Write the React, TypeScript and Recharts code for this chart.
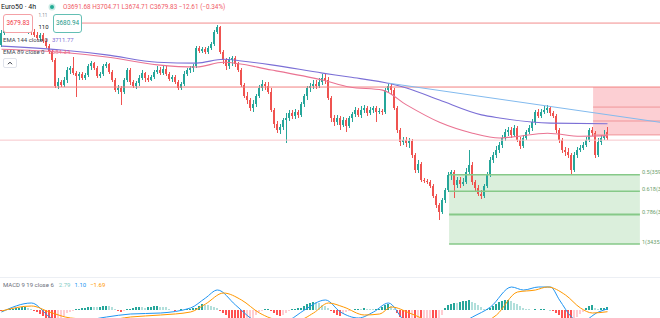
import React from 'react';
import { ComposedChart, Bar, Line, XAxis, YAxis, ReferenceLine, ReferenceArea } from 'recharts';

// ---------- data ----------
const SYMBOL = 'Euro50 · 4h';
const LAST_OHLC_TEXT = 'O3691.68 H3704.71 L3674.71 C3679.83 −12.61 (−0.34%)';
const SELL_PRICE = '3679.83';
const BUY_PRICE = '3680.94';
const SPREAD = '1.11';
const QTY = '110';

// [open, high, low, close] per 4h candle
const OHLC: [number, number, number, number][] = [
  [3893,3927,3888,3920],[3920,3932,3916,3927],[3927,3939,3922,3934],[3934,3941,3927,3936],[3936,3941,3925,3929],
  [3929,3939,3922,3934],[3934,3941,3925,3927],[3927,3936,3920,3932],[3932,3939,3922,3925],[3925,3934,3918,3929],
  [3929,3934,3916,3922],[3922,3929,3911,3916],[3916,3922,3904,3909],[3909,3920,3902,3916],[3916,3920,3897,3902],
  [3902,3906,3886,3890],[3890,3895,3872,3879],[3879,3883,3853,3858],[3858,3863,3794,3798],[3798,3817,3791,3807],
  [3807,3812,3796,3801],[3801,3819,3796,3812],[3812,3842,3805,3835],[3835,3844,3826,3840],[3840,3865,3824,3828],
  [3828,3833,3773,3821],[3821,3830,3812,3826],[3826,3830,3812,3817],[3817,3828,3812,3824],[3824,3849,3819,3844],
  [3844,3856,3835,3851],[3851,3853,3835,3840],[3840,3844,3817,3821],[3821,3830,3817,3826],[3826,3849,3821,3844],
  [3844,3853,3840,3849],[3849,3851,3826,3830],[3830,3835,3807,3812],[3812,3817,3784,3789],[3789,3801,3780,3794],
  [3794,3798,3755,3784],[3784,3817,3780,3812],[3812,3840,3807,3835],[3835,3840,3801,3807],[3807,3812,3794,3798],
  [3798,3810,3791,3805],[3805,3824,3798,3817],[3817,3835,3812,3828],[3828,3830,3807,3817],[3817,3824,3807,3812],
  [3812,3824,3810,3819],[3819,3835,3814,3830],[3830,3844,3826,3835],[3835,3842,3824,3828],[3828,3844,3824,3837],
  [3837,3844,3821,3826],[3826,3830,3810,3814],[3814,3824,3807,3819],[3819,3824,3803,3807],[3807,3812,3789,3794],
  [3794,3807,3789,3803],[3803,3833,3798,3826],[3826,3840,3821,3835],[3835,3844,3828,3840],[3840,3849,3830,3844],
  [3844,3890,3840,3886],[3886,3890,3874,3879],[3879,3888,3874,3883],[3883,3888,3872,3876],[3876,3890,3872,3886],
  [3886,3899,3881,3895],[3895,3927,3890,3922],[3922,3939,3918,3934],[3934,3936,3872,3876],[3876,3881,3849,3858],
  [3858,3863,3835,3844],[3844,3865,3837,3858],[3858,3867,3844,3863],[3863,3867,3842,3849],[3849,3853,3830,3835],
  [3835,3840,3796,3801],[3801,3805,3771,3775],[3775,3784,3757,3766],[3766,3771,3741,3748],[3748,3766,3738,3757],
  [3757,3780,3750,3775],[3775,3801,3771,3794],[3794,3812,3787,3803],[3803,3807,3789,3798],[3798,3807,3780,3784],
  [3784,3794,3738,3743],[3743,3748,3702,3711],[3711,3718,3690,3697],[3697,3711,3688,3704],[3704,3725,3697,3720],
  [3720,3736,3667,3725],[3725,3743,3718,3736],[3736,3743,3722,3729],[3729,3745,3722,3738],[3738,3743,3725,3732],
  [3732,3761,3727,3757],[3757,3780,3750,3775],[3775,3798,3766,3794],[3794,3805,3784,3798],[3798,3812,3791,3803],
  [3803,3812,3791,3798],[3798,3817,3794,3807],[3807,3826,3801,3817],[3817,3826,3803,3812],[3812,3819,3766,3771],
  [3771,3775,3715,3725],[3725,3732,3706,3715],[3715,3732,3709,3725],[3725,3729,3697,3709],[3709,3727,3704,3720],
  [3720,3725,3692,3706],[3706,3729,3702,3725],[3725,3738,3715,3734],[3734,3750,3727,3743],[3743,3748,3727,3732],
  [3732,3752,3725,3743],[3743,3755,3736,3748],[3748,3752,3729,3736],[3736,3750,3732,3743],[3743,3752,3736,3748],
  [3748,3752,3715,3738],[3738,3748,3734,3741],[3741,3745,3732,3738],[3738,3794,3734,3789],[3789,3803,3782,3798],
  [3798,3805,3778,3789],[3789,3794,3743,3748],[3748,3752,3690,3697],[3697,3702,3660,3669],[3669,3681,3663,3674],
  [3674,3681,3658,3667],[3667,3679,3656,3672],[3672,3676,3633,3640],[3640,3644,3598,3605],[3605,3628,3598,3619],
  [3619,3623,3577,3582],[3582,3587,3575,3580],[3580,3584,3573,3577],[3577,3582,3564,3568],[3568,3573,3541,3545],
  [3545,3550,3518,3525],[3525,3529,3490,3508],[3508,3541,3504,3536],[3536,3564,3529,3559],[3559,3600,3554,3594],
  [3594,3605,3582,3600],[3600,3605,3541,3571],[3571,3589,3564,3582],[3582,3589,3564,3573],[3573,3587,3568,3577],
  [3577,3610,3573,3600],[3600,3651,3594,3617],[3617,3623,3571,3577],[3577,3582,3554,3564],[3564,3571,3545,3550],
  [3550,3559,3538,3545],[3545,3573,3541,3568],[3568,3600,3564,3594],[3594,3635,3589,3628],[3628,3646,3621,3640],
  [3640,3660,3633,3651],[3651,3669,3644,3663],[3663,3686,3656,3679],[3679,3699,3672,3692],[3692,3704,3683,3697],
  [3697,3704,3679,3686],[3686,3709,3681,3702],[3702,3706,3669,3674],[3674,3681,3653,3660],[3660,3686,3656,3679],
  [3679,3697,3674,3692],[3692,3709,3688,3702],[3702,3722,3695,3715],[3715,3743,3709,3738],[3738,3745,3725,3729],
  [3729,3745,3725,3738],[3738,3752,3734,3743],[3743,3755,3736,3748],[3748,3752,3729,3736],[3736,3741,3725,3729],
  [3729,3734,3690,3697],[3697,3702,3667,3674],[3674,3679,3644,3651],[3651,3658,3637,3646],[3646,3656,3633,3640],
  [3640,3644,3594,3605],[3605,3646,3600,3640],[3640,3658,3633,3651],[3651,3663,3646,3656],[3656,3669,3651,3663],
  [3663,3681,3658,3674],[3674,3702,3669,3697],[3697,3704,3683,3690],[3690,3695,3633,3640],[3640,3679,3635,3669],
  [3669,3686,3663,3679],[3679,3697,3674,3683],[3691.68,3704.71,3674.71,3679.83],
];

// EMA readings [candle index, value]
const EMA144: [number, number][] = [
  [0,3890],[20,3881],[35,3870],[52,3853],[65,3851],[74,3860],[80,3856],[90,3847],[107,3828],[116,3819],
  [130,3803],[135,3794],[146,3766],[160,3732],[166,3725],[183,3713],[202,3711.77],
];
const EMA89: [number, number][] = [
  [0,3883],[20,3876],[35,3865],[52,3847],[65,3842],[74,3853],[90,3835],[107,3812],[116,3796],[127,3789],
  [135,3755],[146,3715],[157,3690],[166,3679],[170,3681],[182,3690],[193,3683],[202,3684.34],
];

// MACD 9 19 6
const MACD_HIST: number[] = [
  -1,-0.5,0.5,1,1.5,2,2.5,3,3.3,2.5, 1,-0.5,-2,-4,-6,-8,-10,-13,-16,-14,
  -10,-6,-3,-1.5,-0.5,0.8,1.2,1.8,2.4,3, 3.4,3,2.6,3,3.6,4,3.6,3,1.5,-1,
  -2.2,-0.5,1,1.5,2.2,3,3.3,2.8,2.5,3, 3.4,3.8,4,3.5,3.2,3,1.5,0.5,-0.3,0.5,
  0.8,0.4,1,1.5,2,2.5,4,5.8,5.5,4.8, 4,3,2,-1,-3,-5,-8,-11,-14,-16,
  -18,-19,-17,-13,-9,-5,-1.5,-0.5,0.8,1.2, -1,-3,-5,-6,-5,-3,-1,0.8,1.5,2,
  2.5,4,6,7.5,8.3,8,7,5.5,4,2, -1,-3,-5,-6,-4,-2,-0.5,0.5,1,1.5,
  1.2,1.8,1.5,1,0.6,0.8,1.2,3,5,5.7, 4.5,1,-3,-7,-10,-12,-14,-13,-15,-12,
  -13,-11,-9,-8,-10,-11,-9,-5,2,5, 6.5,7.3,7,8,9,9.5,10,8.5,7,5,
  3,1,1.5,2,4,6,8,9.5,10,10.3, 9,7.5,6,4.5,2,1,0.6,0.5,0.8,0.4,
  0.6,0.8,0.5,0.3,-1,-3,-5,-8,-10,-12, -13,-10,-7,-4,-1.5,2,4.5,5,2.5,1.5,
  2,2.5,2.79,
];
const MACD_LINE: [number, number][] = [
  [0,-2],[10,7],[16,-7],[20,-14],[35,-7],[43,-4],[53,-3],[63,2],[68,12],[72,20],[78,5],[84,-10],[90,-15],
  [96,-10],[101,0],[108,10],[113,-2],[119,-8],[124,-2],[129,7],[134,-10],[143,-25],[149,-20],[157,-7],
  [163,3],[170,23],[174,20],[179,23],[183,23],[186,10],[190,-7],[193,-12],[199,-2],[202,1.10],
];
const MACD_SIGNAL: [number, number][] = [
  [0,-1],[10,4],[16,-2],[23,-8],[35,-10],[43,-7],[53,-5],[63,-2],[68,6],[74,17],[80,10],[86,-3],[93,-10],
  [99,-10],[104,-3],[109,7],[114,3],[121,-5],[126,-4],[130,3],[136,-3],[145,-15],[151,-22],[160,-14],
  [165,-5],[172,18],[178,20],[182,23],[188,15],[193,2],[197,-3],[202,-1.69],
];
const MACD_LEGEND = { hist: '2.79', macd: '1.10', signal: '−1.69' };

// drawings (anchored in candle index / price)
const SLOTS = 220;
const PRICE_DOMAIN: [number, number] = [3394, 3996];
const MACD_DOMAIN: [number, number] = [-37, 33];
const RESIST_TOP = { from: 26.8, price: 3943 };
const RESIST_MID = 3796;
const SUPPORT_LINE = 3674;
const TREND_LINE = [{ x: 129, y: 3805 }, { x: 219.5, y: 3715 }];
const SELL_ZONE = { x1: 197.2, x2: 219.5, top: 3796, bottom: 3686, levels: [3750, 3718, 3686] };
const FIB_ZONE = { x1: 149.2, x2: 212.8 };
const FIB_LEVELS = [
  { ratio: '0.5', price: 3594.35 },
  { ratio: '0.618', price: 3556.79 },
  { ratio: '0.786', price: 3503.32 },
  { ratio: '1', price: 3435.2 },
];

// ---------- table for the library ----------
const e144 = new Map(EMA144);
const e89 = new Map(EMA89);
const mLine = new Map(MACD_LINE);
const mSig = new Map(MACD_SIGNAL);
const rows = Array.from({ length: SLOTS }, (_, i) => {
  const c = OHLC[i];
  return {
    i,
    ohlc: c ?? null,
    range: c ? [c[2], c[1]] : null,
    ema144: e144.has(i) ? e144.get(i) : null,
    ema89: e89.has(i) ? e89.get(i) : null,
    hist: i < MACD_HIST.length ? MACD_HIST[i] : null,
    macd: mLine.has(i) ? mLine.get(i) : null,
    signal: mSig.has(i) ? mSig.get(i) : null,
  };
});

const UP = '#26a69a';
const DOWN = '#ef5350';
const FONT = "Roboto, 'Noto Sans', Arial, sans-serif";

const Candle = (props: any) => {
  const { x, y, width, height, payload } = props;
  if (!payload || !payload.ohlc || !isFinite(y) || !isFinite(height)) return <g />;
  const [o, h, l, c] = payload.ohlc;
  const top = Math.min(y, y + height);
  const bot = Math.max(y, y + height);
  const ppu = (bot - top) / (h - l || 1);
  const yo = top + (h - o) * ppu;
  const yc = top + (h - c) * ppu;
  const color = c >= o ? UP : DOWN;
  const cx = x + width / 2;
  const bx = Math.round(cx - 1);
  return (
    <g shapeRendering="crispEdges">
      <rect x={Math.floor(cx)} y={top} width={1} height={Math.max(1, bot - top)} fill={color} />
      <rect x={bx} y={Math.min(yo, yc)} width={2} height={Math.max(1, Math.abs(yo - yc))} fill={color} />
    </g>
  );
};

const histColor = (i: number) => {
  const v = MACD_HIST[i];
  const p = i > 0 ? MACD_HIST[i - 1] : v;
  if (v >= 0) return v >= p ? '#26a69a' : '#b2dfdb';
  return v <= p ? '#ff5252' : '#ffcdd2';
};

const HistBar = (props: any) => {
  const { x, y, width, height, payload } = props;
  if (!payload || payload.hist == null || !isFinite(y) || !isFinite(height)) return <g />;
  const top = Math.min(y, y + height);
  const h = Math.max(0.8, Math.abs(height));
  return (
    <rect x={Math.round(x + width / 2 - 1)} y={top} width={2} height={h} fill={histColor(payload.i)} shapeRendering="crispEdges" />
  );
};

const FibLabel = (props: any) => {
  const vb = props.viewBox || {};
  return (
    <text x={(vb.x || 0) + (vb.width || 0) + 2} y={(vb.y || 0) - 0.5} fontSize={5.6} fill="#6f9f6f" fontFamily={FONT}>
      {props.text}
    </text>
  );
};

const abs = (left: number, top: number, extra: React.CSSProperties = {}): React.CSSProperties => ({
  position: 'absolute', left, top, whiteSpace: 'nowrap', lineHeight: 1, ...extra,
});

export default function App() {
  return (
    <div style={{ position: 'absolute', left: 0, top: 0, width: 660, height: 318, overflow: 'hidden', background: '#fff', fontFamily: FONT }}>
      <div style={abs(0, 0)}>
        <ComposedChart width={660} height={262} data={rows} margin={{ top: 0, right: 0, bottom: 0, left: 0 }}>
          <XAxis dataKey="i" type="number" domain={[-0.5, SLOTS - 0.5]} hide allowDataOverflow />
          <YAxis type="number" domain={PRICE_DOMAIN} hide allowDataOverflow />
          <ReferenceArea x1={FIB_ZONE.x1} x2={FIB_ZONE.x2} y1={FIB_LEVELS[3].price} y2={FIB_LEVELS[0].price} fill="#4caf50" fillOpacity={0.2} stroke="none" ifOverflow="visible" />
          <ReferenceArea x1={SELL_ZONE.x1} x2={SELL_ZONE.x2} y1={SELL_ZONE.bottom} y2={SELL_ZONE.top} fill="#f23645" fillOpacity={0.24} stroke="none" ifOverflow="visible" />
          {SELL_ZONE.levels.map((p) => (
            <ReferenceLine key={'sz' + p} segment={[{ x: SELL_ZONE.x1, y: p }, { x: SELL_ZONE.x2, y: p }]} stroke="#f09598" strokeWidth={1} ifOverflow="visible" />
          ))}
          <ReferenceLine segment={[{ x: RESIST_TOP.from, y: RESIST_TOP.price }, { x: SLOTS - 0.5, y: RESIST_TOP.price }]} stroke="#f28c8c" strokeWidth={1} ifOverflow="visible" />
          <ReferenceLine y={RESIST_MID} stroke="#f28080" strokeWidth={1} ifOverflow="visible" />
          <ReferenceLine y={SUPPORT_LINE} stroke="#f8c6ca" strokeWidth={1} ifOverflow="visible" />
          {FIB_LEVELS.map((f) => (
            <ReferenceLine
              key={f.ratio}
              segment={[{ x: FIB_ZONE.x1, y: f.price }, { x: FIB_ZONE.x2, y: f.price }]}
              stroke="#86c988"
              strokeWidth={f.ratio === '0.786' ? 2 : 1.5}
              ifOverflow="visible"
              label={<FibLabel text={`${f.ratio}(${f.price.toFixed(2)})`} />}
            />
          ))}
          <Bar dataKey="range" barSize={3} shape={(p: any) => <Candle {...p} />} isAnimationActive={false} />
          <Line dataKey="ema144" type="monotone" stroke="#7b6fd6" strokeWidth={1.1} dot={false} activeDot={false} connectNulls isAnimationActive={false} />
          <Line dataKey="ema89" type="monotone" stroke="#ea7392" strokeWidth={1.1} dot={false} activeDot={false} connectNulls isAnimationActive={false} />
          <ReferenceLine segment={TREND_LINE} stroke="#82baee" strokeWidth={1} ifOverflow="visible" />
        </ComposedChart>
      </div>

      <div style={abs(0, 277, { width: 660, height: 1, background: '#eceff4' })} />
      <div style={abs(0, 277)}>
        <ComposedChart width={660} height={70} data={rows} margin={{ top: 0, right: 0, bottom: 0, left: 0 }}>
          <XAxis dataKey="i" type="number" domain={[-0.5, SLOTS - 0.5]} hide allowDataOverflow />
          <YAxis type="number" domain={MACD_DOMAIN} hide allowDataOverflow />
          <Bar dataKey="hist" barSize={3} shape={(p: any) => <HistBar {...p} />} isAnimationActive={false} />
          <Line dataKey="macd" type="monotone" stroke="#2196f3" strokeWidth={1} dot={false} activeDot={false} connectNulls isAnimationActive={false} />
          <Line dataKey="signal" type="monotone" stroke="#ff9800" strokeWidth={1} dot={false} activeDot={false} connectNulls isAnimationActive={false} />
        </ComposedChart>
      </div>

      {/* header legend */}
      <div style={abs(1, 3.5, { fontSize: 7, color: '#131722' })}>{SYMBOL}</div>
      <div style={abs(50, 5, { width: 4, height: 4, borderRadius: 2, background: '#22ab94', boxShadow: '0 0 0 1.5px rgba(34,171,148,0.25)' })} />
      <div style={abs(63, 4, { fontSize: 6.4, color: '#f05a66' })}>{LAST_OHLC_TEXT}</div>

      {/* buy / sell panel */}
      <div style={abs(3, 14, { width: 30, height: 19, boxSizing: 'border-box', border: '1px solid #f4a1a6', borderRadius: 3, background: '#fff', display: 'flex', alignItems: 'center', justifyContent: 'center', fontSize: 6.4, color: '#f23645' })}>{SELL_PRICE}</div>
      <div style={abs(38.5, 14, { fontSize: 4.6, color: '#8a8d96' })}>{SPREAD}</div>
      <div style={abs(38.5, 24, { fontSize: 6, color: '#131722' })}>{QTY}</div>
      <div style={abs(53, 14, { width: 29, height: 19, boxSizing: 'border-box', border: '1px solid #63bfb4', borderRadius: 3, background: '#fff', display: 'flex', alignItems: 'center', justifyContent: 'center', fontSize: 6.4, color: '#1e9a8a' })}>{BUY_PRICE}</div>

      {/* indicator legends */}
      <div style={abs(3, 37, { fontSize: 6, color: '#434651' })}>
        EMA 144 close 0<span style={{ marginLeft: 4, color: '#7e6fd4' }}>3711.77</span>
      </div>
      <div style={abs(3, 48.5, { fontSize: 6, color: '#434651' })}>
        EMA 89 close 0<span style={{ marginLeft: 4, color: '#ec6a8c' }}>3684.34</span>
      </div>
      <div style={abs(3, 58, { width: 14, height: 10, boxSizing: 'border-box', border: '1px solid #e0e3eb', borderRadius: 2, background: '#fff' })}>
        <svg width={12} height={8} style={{ display: 'block' }}>
          <path d="M4 5.2 L6 3.2 L8 5.2" stroke="#131722" strokeWidth={0.9} fill="none" />
        </svg>
      </div>

      <div style={abs(3, 282, { fontSize: 6, color: '#6a6d78' })}>
        MACD 9 19 close 6
        <span style={{ marginLeft: 5, color: '#80cbc4' }}>{MACD_LEGEND.hist}</span>
        <span style={{ marginLeft: 4, color: '#2196f3' }}>{MACD_LEGEND.macd}</span>
        <span style={{ marginLeft: 4, color: '#ff9800' }}>{MACD_LEGEND.signal}</span>
      </div>
    </div>
  );
}
